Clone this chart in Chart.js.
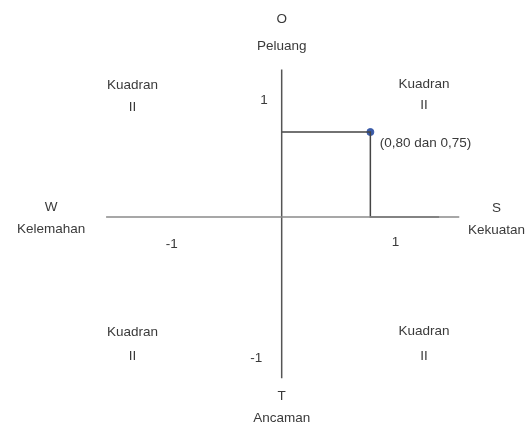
<!DOCTYPE html>
<html>
<head>
<meta charset="utf-8">
<script src="https://cdn.jsdelivr.net/npm/chart.js@4"></script>
<style>
  html, body { margin: 0; padding: 0; background: #fff; }
  #wrap { width: 529px; height: 432px; }
</style>
</head>
<body>
<div id="wrap"><canvas id="swot"></canvas></div>
<script>
// position of the strategy (S-W score, O-T score)
const pointX = [0.80];
const pointY = [0.75];
const pointLabel = '(0,80 dan 0,75)';

// guide line from the point to both axes
const pathX = [0, 0.80, 0.80, 1.42];
const pathY = [0.75, 0.75, 0, 0];

// axis extents
const axisH = [-1.584, 1.602];
const axisV = [-1.422, 1.302];

// tick labels
const xTicks = ['-1', '1'];
const yTicks = ['1', '-1'];

// axis names
const axisNames = ['O', 'Peluang', 'T', 'Ancaman', 'W', 'Kelemahan', 'S', 'Kekuatan'];
const quadrantNames = ['Kuadran', 'II'];

// label placement in data units
const notes = [
  { t: axisNames[0], x: 0, y: 1.741 },
  { t: axisNames[1], x: 0, y: 1.509 },
  { t: axisNames[2], x: 0, y: -1.578 },
  { t: axisNames[3], x: 0, y: -1.776 },
  { t: axisNames[4], x: -2.08, y: 0.086 },
  { t: axisNames[5], x: -2.08, y: -0.112 },
  { t: axisNames[6], x: 1.938, y: 0.078 },
  { t: axisNames[7], x: 1.938, y: -0.12 },
  { t: xTicks[0], x: -0.991, y: -0.241 },
  { t: xTicks[1], x: 1.027, y: -0.224 },
  { t: yTicks[0], x: -0.159, y: 1.034 },
  { t: yTicks[1], x: -0.23, y: -1.25 },
  { t: quadrantNames[0], x: -1.345, y: 1.164 },
  { t: quadrantNames[1], x: -1.345, y: 0.966 },
  { t: quadrantNames[0], x: 1.283, y: 1.172 },
  { t: quadrantNames[1], x: 1.283, y: 0.983 },
  { t: quadrantNames[0], x: -1.345, y: -1.017 },
  { t: quadrantNames[1], x: -1.345, y: -1.233 },
  { t: quadrantNames[0], x: 1.283, y: -1.009 },
  { t: quadrantNames[1], x: 1.283, y: -1.233 },
  { t: pointLabel, x: 0.885, y: 0.647, align: 'left' }
];

/**
 * Draws the text labels at data positions
 */
const textPlugin = {
  id: 'swotText',
  afterDatasetsDraw(chart) {
    const ctx = chart.ctx;
    const sx = chart.scales.x;
    const sy = chart.scales.y;
    ctx.save();
    ctx.font = '13.5px "Liberation Sans", sans-serif';
    ctx.fillStyle = '#3a3a3a';
    ctx.textBaseline = 'middle';
    notes.forEach(n => {
      ctx.textAlign = n.align || 'center';
      ctx.fillText(n.t, sx.getPixelForValue(n.x), sy.getPixelForValue(n.y));
    });
    ctx.restore();
  }
};

const ctx = document.getElementById('swot').getContext('2d');

new Chart(ctx, {
  type: 'scatter',
  data: {
    datasets: [
      {
        // horizontal axis
        data: axisH.map(v => ({ x: v, y: 0 })),
        showLine: true,
        borderColor: '#8a8a8a',
        borderWidth: 1.5,
        pointRadius: 0
      },
      {
        // vertical axis
        data: axisV.map(v => ({ x: 0, y: v })),
        showLine: true,
        borderColor: '#555',
        borderWidth: 1.5,
        pointRadius: 0
      },
      {
        // guide lines
        data: pathX.map((v, i) => ({ x: v, y: pathY[i] })),
        showLine: true,
        borderColor: '#444',
        borderWidth: 1.5,
        pointRadius: 0
      },
      {
        // the strategy point
        data: pointX.map((v, i) => ({ x: v, y: pointY[i] })),
        pointRadius: 3.5,
        pointBackgroundColor: '#3a5ba8',
        pointBorderColor: '#3a5ba8'
      }
    ]
  },
  options: {
    responsive: true,
    maintainAspectRatio: false,
    animation: false,
    layout: { padding: 0 },
    plugins: {
      legend: { display: false },
      tooltip: { enabled: false }
    },
    scales: {
      x: { type: 'linear', display: false, min: -2.496, max: 2.186 },
      y: { type: 'linear', display: false, min: -1.853, max: 1.871 }
    }
  },
  plugins: [textPlugin]
});
</script>
</body>
</html>
